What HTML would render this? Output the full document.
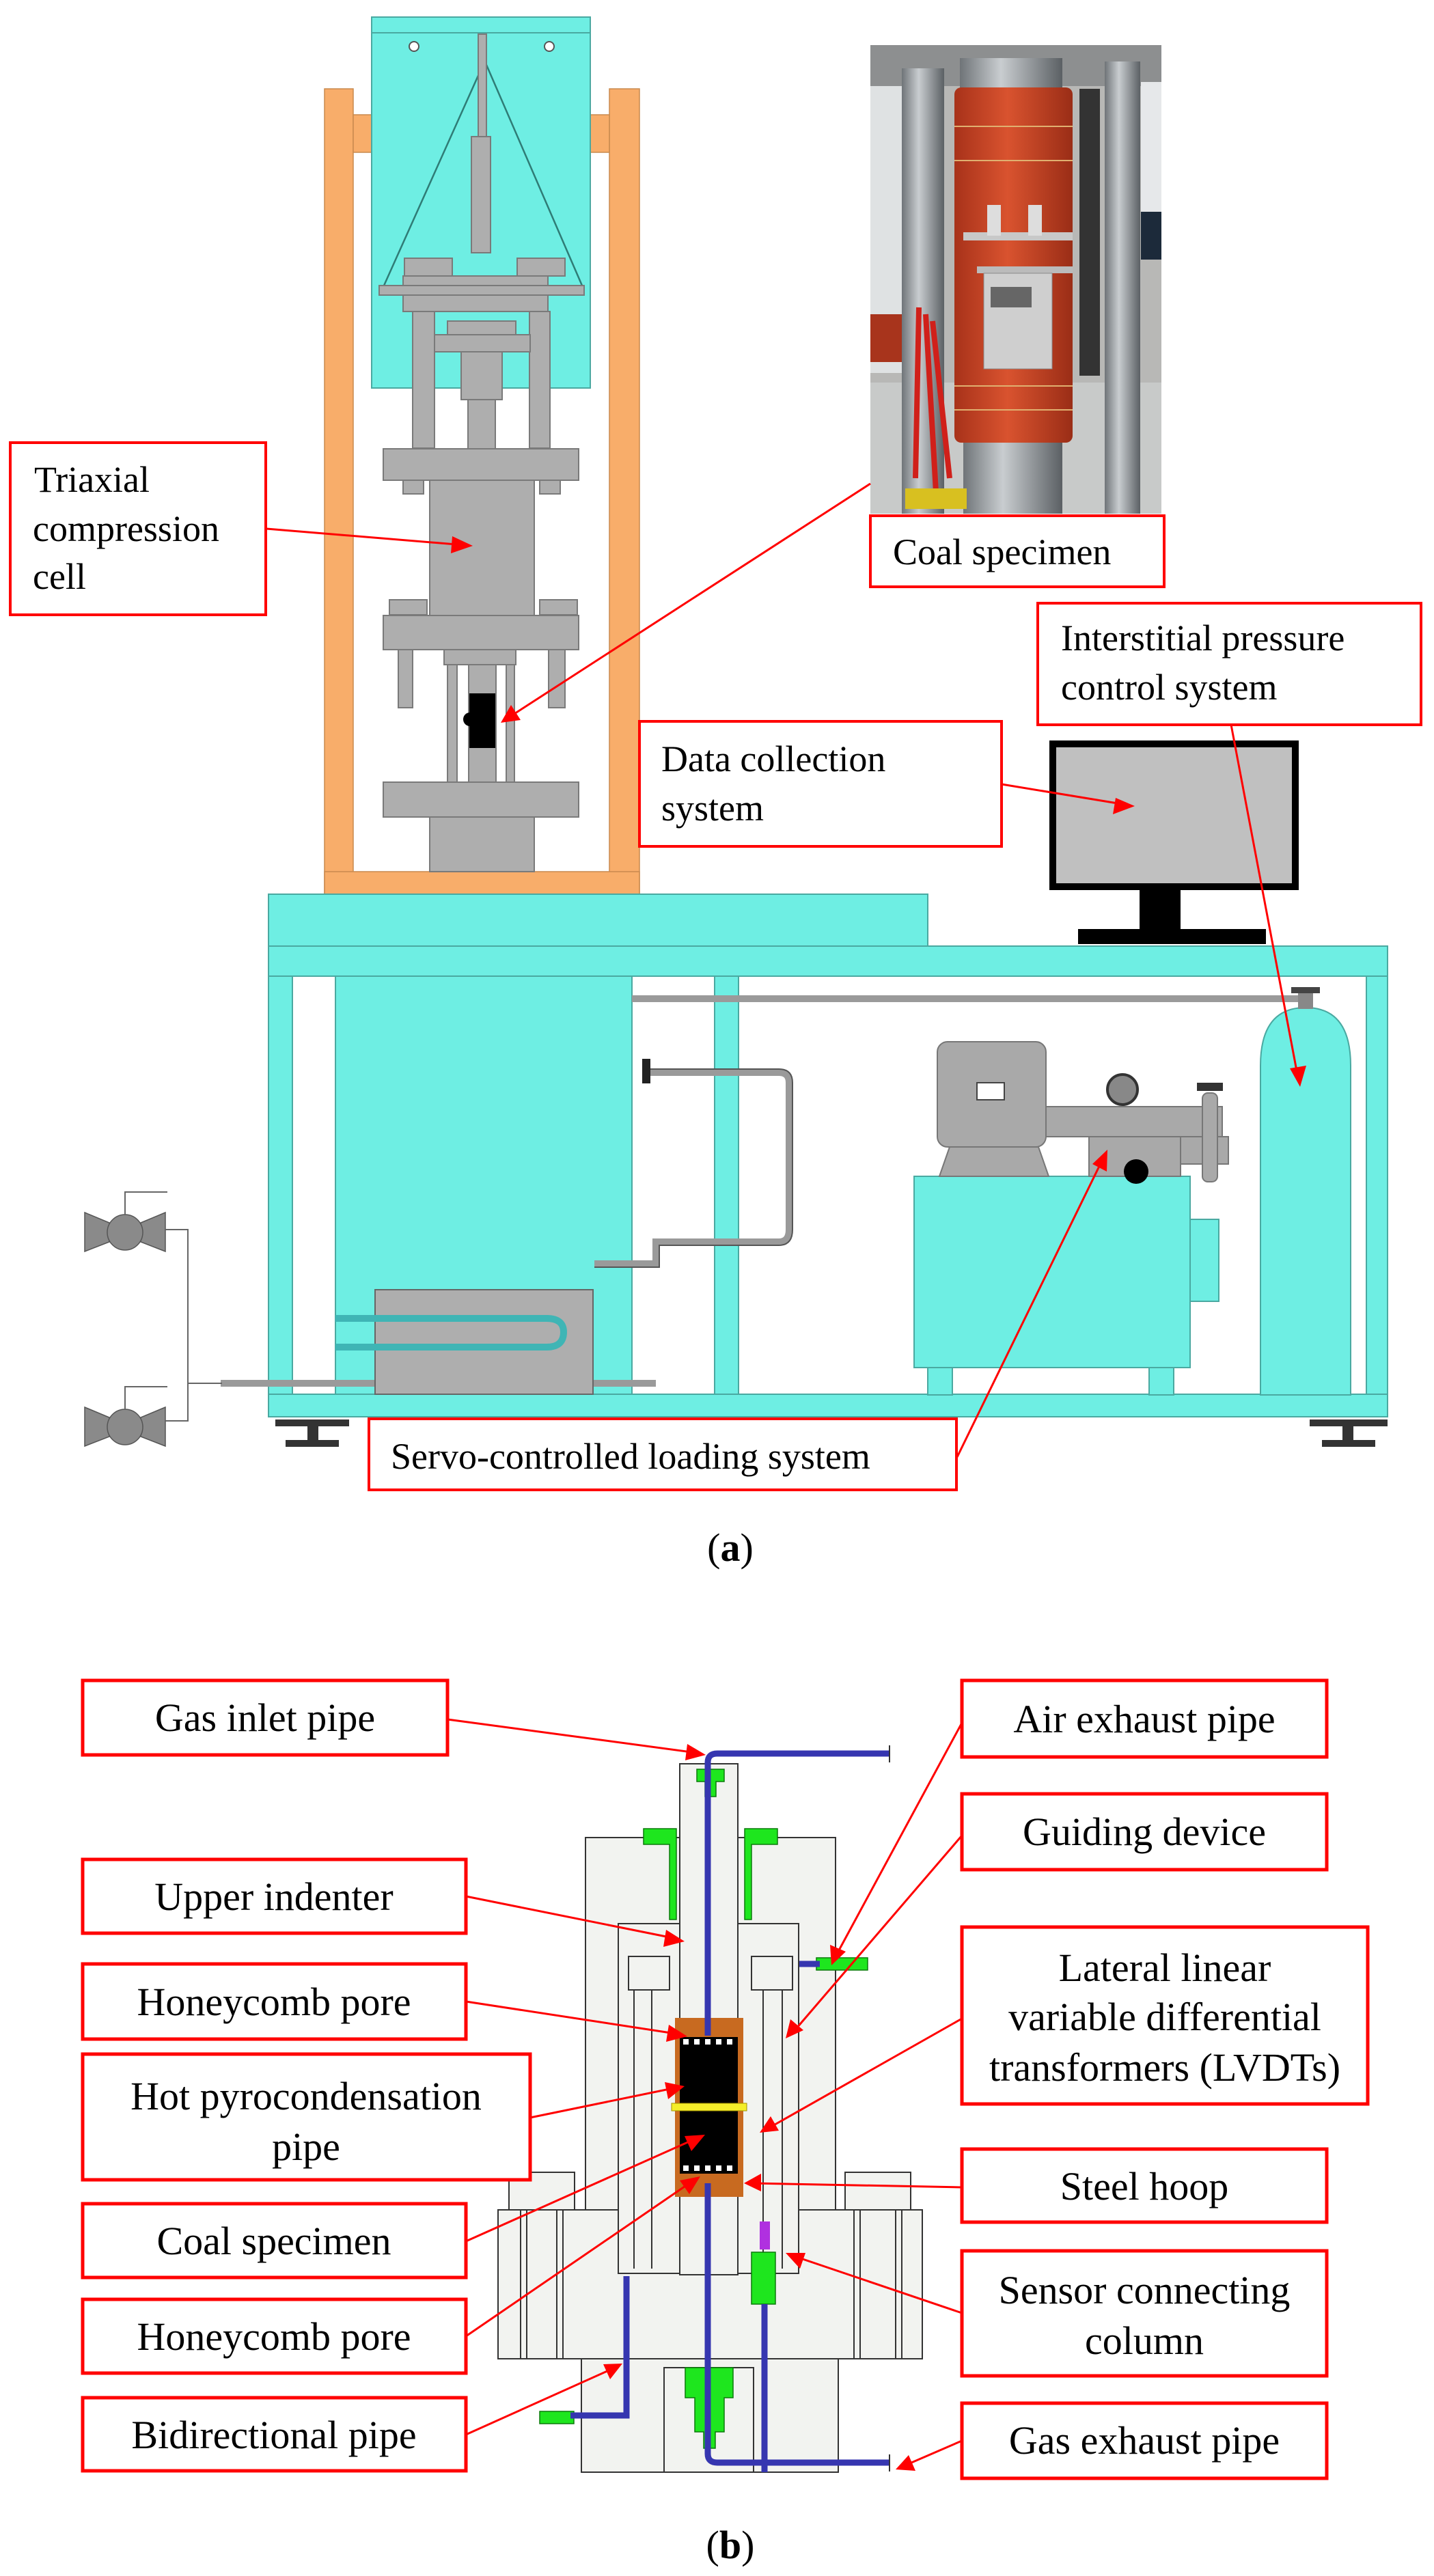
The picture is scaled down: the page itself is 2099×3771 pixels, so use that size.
<!DOCTYPE html>
<html><head><meta charset="utf-8"><style>
html,body{margin:0;padding:0;background:#fff;}
svg{display:block;}
text{font-family:"Liberation Serif",serif;fill:#000;}
</style></head><body>
<svg width="2099" height="3771" viewBox="0 0 2099 3771" xmlns="http://www.w3.org/2000/svg">
<defs>
<marker id="ah" markerWidth="10" markerHeight="8" refX="9" refY="4" orient="auto" markerUnits="userSpaceOnUse" viewBox="0 0 10 8">
</marker>
<linearGradient id="steel" x1="0" x2="1"><stop offset="0" stop-color="#6f7478"/><stop offset=".4" stop-color="#c9cdd0"/><stop offset="1" stop-color="#5b6064"/></linearGradient>
<linearGradient id="red" x1="0" x2="1"><stop offset="0" stop-color="#a8321a"/><stop offset=".45" stop-color="#d9532f"/><stop offset="1" stop-color="#9a2d16"/></linearGradient>
</defs>

<!-- ============ PART (a) ============ -->
<!-- orange frame -->
<g fill="#f8ad6a" stroke="#c98a4e" stroke-width="1.5">
<rect x="475" y="130" width="42" height="1179"/>
<rect x="892" y="130" width="44" height="1179"/>
<rect x="475" y="1276" width="461" height="33"/>
<rect x="517" y="168" width="28" height="55"/>
<rect x="864" y="168" width="28" height="55"/>
</g>
<!-- cyan top box -->
<rect x="544" y="25" width="320" height="543" fill="#6eeee3" stroke="#4aa9a1" stroke-width="2"/>
<line x1="544" y1="48" x2="864" y2="48" stroke="#4aa9a1" stroke-width="2"/>
<circle cx="606" cy="68" r="7" fill="#fff" stroke="#555" stroke-width="2"/>
<circle cx="804" cy="68" r="7" fill="#fff" stroke="#555" stroke-width="2"/>
<g stroke="#2f7c76" stroke-width="2.5" fill="none">
<line x1="707" y1="95" x2="562" y2="418"/><line x1="712" y1="95" x2="852" y2="418"/>
</g>
<!-- gray cell -->
<g fill="#aeaeae" stroke="#7a7a7a" stroke-width="2">
<rect x="700" y="50" width="12" height="150"/>
<rect x="690" y="200" width="28" height="170"/>
<rect x="590" y="404" width="212" height="52"/>
<rect x="555" y="418" width="300" height="14"/>
<rect x="592" y="378" width="70" height="26"/>
<rect x="757" y="378" width="70" height="26"/>
<rect x="604" y="456" width="32" height="200"/>
<rect x="775" y="456" width="30" height="200"/>
<rect x="655" y="470" width="100" height="20"/>
<rect x="636" y="490" width="140" height="25"/>
<rect x="675" y="515" width="60" height="70"/>
<rect x="685" y="585" width="40" height="72"/>
<rect x="561" y="657" width="286" height="46"/>
<rect x="590" y="703" width="30" height="20"/>
<rect x="790" y="703" width="30" height="20"/>
<rect x="629" y="703" width="153" height="198"/>
<rect x="570" y="878" width="55" height="22"/>
<rect x="790" y="878" width="55" height="22"/>
<rect x="561" y="901" width="286" height="50"/>
<rect x="583" y="951" width="21" height="85"/>
<rect x="803" y="951" width="24" height="85"/>
<rect x="650" y="951" width="105" height="22"/>
<rect x="655" y="973" width="14" height="172"/>
<rect x="741" y="973" width="12" height="172"/>
<rect x="686" y="973" width="40" height="172"/>
<rect x="561" y="1145" width="286" height="51"/>
<rect x="629" y="1196" width="153" height="80"/>
</g>
<rect x="687" y="1015" width="38" height="80" fill="#000"/>
<circle cx="688" cy="1053" r="10" fill="#000"/>

<!-- photo -->
<g>
<rect x="1274" y="66" width="426" height="686" fill="#b8b8b6"/>
<rect x="1274" y="66" width="426" height="60" fill="#8d8f90"/>
<rect x="1274" y="126" width="60" height="420" fill="#dfe2e3"/>
<rect x="1274" y="460" width="60" height="70" fill="#a8341c"/>
<rect x="1274" y="560" width="426" height="192" fill="#c8cac9"/>
<rect x="1320" y="100" width="62" height="652" fill="url(#steel)"/>
<rect x="1617" y="90" width="52" height="662" fill="url(#steel)"/>
<rect x="1580" y="130" width="30" height="420" fill="#333"/>
<rect x="1670" y="120" width="30" height="230" fill="#e6e8ea"/>
<rect x="1670" y="310" width="30" height="70" fill="#1c2a3a"/>
<rect x="1405" y="85" width="150" height="50" fill="url(#steel)"/>
<rect x="1410" y="630" width="145" height="122" fill="url(#steel)"/>
<rect x="1397" y="128" width="173" height="520" rx="10" fill="url(#red)"/>
<line x1="1397" y1="185" x2="1570" y2="185" stroke="#e0b070" stroke-width="2"/>
<line x1="1397" y1="235" x2="1570" y2="235" stroke="#e0b070" stroke-width="2"/>
<line x1="1397" y1="565" x2="1570" y2="565" stroke="#e0b070" stroke-width="2"/>
<line x1="1397" y1="600" x2="1570" y2="600" stroke="#e0b070" stroke-width="2"/>
<rect x="1410" y="340" width="160" height="12" fill="#c8c8c8"/>
<rect x="1430" y="390" width="140" height="10" fill="#bbb"/>
<rect x="1440" y="400" width="100" height="140" fill="#cfcfcf" stroke="#888"/>
<rect x="1450" y="420" width="60" height="30" fill="#666"/>
<rect x="1445" y="300" width="20" height="45" fill="#ddd"/>
<rect x="1505" y="300" width="20" height="45" fill="#ddd"/>
<path d="M1345 450 L1340 700 M1355 460 L1370 720 M1365 470 L1390 700" stroke="#d0201a" stroke-width="8" fill="none"/>
<rect x="1325" y="715" width="90" height="30" fill="#d8c020"/>
</g>

<!-- table -->
<g fill="#6eeee3" stroke="#4aa9a1" stroke-width="2">
<rect x="393" y="1309" width="965" height="76"/>
<rect x="393" y="1385" width="1638" height="44"/>
<rect x="393" y="1429" width="35" height="612"/>
<rect x="1046" y="1429" width="35" height="612"/>
<rect x="2000" y="1429" width="31" height="612"/>
<rect x="491" y="1429" width="434" height="612"/>
<rect x="393" y="2041" width="1638" height="33"/>
</g>
<!-- monitor -->
<rect x="1541" y="1089" width="355" height="209" fill="#c0c0c0" stroke="#000" stroke-width="10"/>
<rect x="1668" y="1302" width="60" height="58" fill="#000"/>
<rect x="1578" y="1360" width="275" height="22" fill="#000"/>
<!-- pipes -->
<g fill="none" stroke="#9a9a9a" stroke-width="10">
<line x1="925" y1="1462" x2="1910" y2="1462"/>
<path d="M945 1570 H1140 Q1155 1570 1155 1585 V1800 Q1155 1818 1140 1818 H960 V1850 H870"/>
<line x1="323" y1="2025" x2="549" y2="2025"/>
<line x1="868" y1="2025" x2="960" y2="2025"/>
</g>
<g fill="none" stroke="#555" stroke-width="2">
<path d="M945 1565 H1140 Q1160 1565 1160 1585 V1800 Q1160 1823 1140 1823 H965 V1855 H870"/>
</g>
<rect x="940" y="1550" width="12" height="36" fill="#222"/>
<!-- heater -->
<rect x="549" y="1888" width="319" height="153" fill="#aeaeae" stroke="#666" stroke-width="2"/>
<path d="M491 1930 H800 Q825 1930 825 1950 Q825 1972 800 1972 H491" fill="none" stroke="#3fb5b5" stroke-width="10"/>
<!-- pump unit -->
<rect x="1338" y="1722" width="404" height="280" fill="#6eeee3" stroke="#4aa9a1" stroke-width="2"/>
<rect x="1742" y="1785" width="42" height="120" fill="#6eeee3" stroke="#4aa9a1" stroke-width="2"/>
<rect x="1358" y="2002" width="36" height="40" fill="#6eeee3" stroke="#4aa9a1" stroke-width="2"/>
<rect x="1682" y="2002" width="36" height="40" fill="#6eeee3" stroke="#4aa9a1" stroke-width="2"/>
<g fill="#a9a9a9" stroke="#777" stroke-width="2">
<rect x="1372" y="1525" width="159" height="154" rx="15"/>
<path d="M1390 1679 L1520 1679 L1535 1722 L1375 1722 Z"/>
<rect x="1531" y="1620" width="258" height="44"/>
<rect x="1594" y="1664" width="134" height="58"/>
<rect x="1728" y="1664" width="70" height="40"/>
<rect x="1760" y="1600" width="22" height="130" rx="8"/>
</g>
<rect x="1430" y="1585" width="40" height="25" fill="#fff" stroke="#444" stroke-width="2"/>
<circle cx="1643" cy="1595" r="22" fill="#888" stroke="#333" stroke-width="4"/>
<circle cx="1663" cy="1715" r="18" fill="#000"/>
<rect x="1752" y="1585" width="38" height="12" fill="#333"/>
<!-- cylinder -->
<path d="M1845 2042 V1560 Q1845 1475 1911 1475 Q1977 1475 1977 1560 V2042 Z" fill="#6eeee3" stroke="#4aa9a1" stroke-width="2"/>
<rect x="1900" y="1452" width="22" height="25" fill="#888"/>
<rect x="1890" y="1445" width="42" height="9" fill="#444"/>
<!-- feet -->
<g fill="#333">
<rect x="403" y="2078" width="108" height="10"/><rect x="450" y="2088" width="16" height="20"/><rect x="418" y="2108" width="78" height="10"/>
<rect x="1917" y="2078" width="114" height="10"/><rect x="1965" y="2088" width="16" height="20"/><rect x="1935" y="2108" width="78" height="10"/>
</g>
<!-- left valves -->
<g fill="#8a8a8a" stroke="#555" stroke-width="1.5">
<path d="M124 1775 L160 1790 L160 1818 L124 1832 Z"/><path d="M242 1775 L206 1790 L206 1818 L242 1832 Z"/><circle cx="183" cy="1804" r="26"/>
<path d="M124 2060 L160 2075 L160 2103 L124 2117 Z"/><path d="M242 2060 L206 2075 L206 2103 L242 2117 Z"/><circle cx="183" cy="2089" r="26"/>
</g>
<g fill="none" stroke="#666" stroke-width="2">
<path d="M183 1778 V1745 H245"/><path d="M183 2063 V2030 H245"/>
<path d="M242 1800 H275 V2080 H242"/><line x1="275" y1="2025" x2="325" y2="2025"/>
</g>

<!-- labels (a) -->
<g fill="#fff" stroke="#f00" stroke-width="4">
<rect x="15" y="648" width="374" height="252"/>
<rect x="1274" y="755" width="430" height="104"/>
<rect x="1519" y="883" width="561" height="178"/>
<rect x="936" y="1056" width="530" height="183"/>
<rect x="540" y="2077" width="860" height="104"/>
</g>
<g font-size="54">
<text x="50" y="720">Triaxial</text>
<text x="48" y="792">compression</text>
<text x="48" y="862">cell</text>
<text x="1307" y="826">Coal specimen</text>
<text x="1553" y="952">Interstitial pressure</text>
<text x="1553" y="1024">control system</text>
<text x="968" y="1129">Data collection</text>
<text x="968" y="1201">system</text>
<text x="572" y="2150">Servo-controlled loading system</text>
</g>
<text x="1069" y="2285" font-size="58" text-anchor="middle">(<tspan font-weight="bold">a</tspan>)</text>

<!-- ============ PART (b) ============ -->
<g fill="#f2f3f0" stroke="#333" stroke-width="2">
<rect x="857" y="2690" width="366" height="545"/>
<rect x="729" y="3235" width="621" height="218"/>
<rect x="851" y="3453" width="376" height="166"/>
<rect x="905" y="2816" width="264" height="512"/>
<rect x="995" y="2582" width="85" height="400"/>
<rect x="972" y="3466" width="131" height="153"/>
<rect x="745" y="3180" width="96" height="55"/>
<rect x="1237" y="3180" width="96" height="55"/>
<rect x="762" y="3235" width="62" height="218"/>
<rect x="1250" y="3235" width="70" height="218"/>
<rect x="920" y="2864" width="60" height="49"/>
<rect x="1100" y="2864" width="60" height="49"/>
<rect x="995" y="3200" width="85" height="130"/>
</g>
<g stroke="#333" stroke-width="2" fill="none">
<line x1="928" y1="2913" x2="928" y2="3321"/><line x1="954" y1="2913" x2="954" y2="3321"/>
<line x1="1117" y1="2913" x2="1117" y2="3321"/><line x1="1145" y1="2913" x2="1145" y2="3321"/>
<line x1="771" y1="3235" x2="771" y2="3453"/><line x1="815" y1="3235" x2="815" y2="3453"/>
<line x1="1259" y1="3235" x2="1259" y2="3453"/><line x1="1311" y1="3235" x2="1311" y2="3453"/>
</g>
<!-- green parts -->
<g fill="#1ee61e" stroke="#0a7a0a" stroke-width="1.5">
<path d="M942 2677 H990 V2810 H980 V2700 H942 Z"/>
<path d="M1138 2677 H1090 V2810 H1100 V2700 H1138 Z"/>
<path d="M1020 2590 H1060 V2608 H1048 V2630 H1032 V2608 H1020 Z"/>
<path d="M1003 3466 H1073 V3510 H1060 V3560 H1047 V3584 H1030 V3560 H1017 V3510 H1003 Z"/>
<rect x="1100" y="3297" width="35" height="76"/>
<rect x="1195" y="2866" width="75" height="18"/>
<rect x="790" y="3530" width="50" height="18"/>
</g>
<rect x="1112" y="3252" width="15" height="41" fill="#b030e0"/>
<!-- specimen -->
<rect x="988" y="2954" width="100" height="262" fill="#c86a20"/>
<rect x="995" y="2982" width="85" height="200" fill="#000"/>
<rect x="983" y="3079" width="110" height="11" fill="#f5ee2a" stroke="#a09000"/>
<g fill="#fff"><rect x="1000" y="2985" width="8" height="8"/><rect x="1016" y="2985" width="8" height="8"/><rect x="1032" y="2985" width="8" height="8"/><rect x="1048" y="2985" width="8" height="8"/><rect x="1064" y="2985" width="8" height="8"/>
<rect x="1000" y="3170" width="8" height="8"/><rect x="1016" y="3170" width="8" height="8"/><rect x="1032" y="3170" width="8" height="8"/><rect x="1048" y="3170" width="8" height="8"/><rect x="1064" y="3170" width="8" height="8"/></g>
<!-- blue pipes -->
<g fill="none" stroke="#3636b0" stroke-width="9">
<path d="M1036 2980 V2580 Q1036 2567 1050 2567 H1302"/>
<path d="M1036 3196 V3592 Q1036 3605 1050 3605 H1302"/>
<line x1="1119" y1="3373" x2="1119" y2="3619"/>
<path d="M917 3332 V3536 H835"/>
<line x1="1170" y1="2875" x2="1200" y2="2875"/>
</g>
<line x1="1302" y1="2555" x2="1302" y2="2580" stroke="#333" stroke-width="2"/>
<line x1="1302" y1="3593" x2="1302" y2="3618" stroke="#333" stroke-width="2"/>

<!-- labels (b) -->
<g fill="#fff" stroke="#f00" stroke-width="5">
<rect x="121" y="2460" width="534" height="109"/>
<rect x="121" y="2722" width="561" height="108"/>
<rect x="121" y="2875" width="561" height="110"/>
<rect x="121" y="3007" width="655" height="184"/>
<rect x="121" y="3226" width="561" height="108"/>
<rect x="121" y="3366" width="561" height="108"/>
<rect x="121" y="3510" width="561" height="107"/>
<rect x="1408" y="2460" width="534" height="112"/>
<rect x="1408" y="2626" width="534" height="111"/>
<rect x="1408" y="2821" width="594" height="259"/>
<rect x="1408" y="3146" width="534" height="107"/>
<rect x="1408" y="3295" width="534" height="183"/>
<rect x="1408" y="3518" width="534" height="110"/>
</g>
<g font-size="58" text-anchor="middle">
<text x="388" y="2534">Gas inlet pipe</text>
<text x="401" y="2796">Upper indenter</text>
<text x="401" y="2950">Honeycomb pore</text>
<text x="448" y="3088">Hot pyrocondensation</text>
<text x="448" y="3162">pipe</text>
<text x="401" y="3300">Coal specimen</text>
<text x="401" y="3440">Honeycomb pore</text>
<text x="401" y="3584">Bidirectional pipe</text>
<text x="1675" y="2536">Air exhaust pipe</text>
<text x="1675" y="2701">Guiding device</text>
<text x="1705" y="2900">Lateral linear</text>
<text x="1705" y="2972">variable differential</text>
<text x="1705" y="3046">transformers (LVDTs)</text>
<text x="1675" y="3220">Steel hoop</text>
<text x="1675" y="3372">Sensor connecting</text>
<text x="1675" y="3446">column</text>
<text x="1675" y="3592">Gas exhaust pipe</text>
</g>
<text x="1069" y="3745" font-size="58" text-anchor="middle">(<tspan font-weight="bold">b</tspan>)</text>

<!-- arrows -->
<g stroke="#f00" stroke-width="3" fill="none">
<line x1="390" y1="774" x2="680" y2="798"/>
<line x1="1274" y1="708" x2="745" y2="1050"/>
<line x1="1466" y1="1148" x2="1648" y2="1178"/>
<line x1="1802" y1="1061" x2="1900" y2="1578"/>
<line x1="1401" y1="2133" x2="1615" y2="1695"/>
<line x1="655" y1="2517" x2="1020" y2="2566"/>
<line x1="682" y1="2776" x2="990" y2="2838"/>
<line x1="682" y1="2930" x2="995" y2="2978"/>
<line x1="776" y1="3100" x2="990" y2="3056"/>
<line x1="682" y1="3281" x2="1020" y2="3130"/>
<line x1="682" y1="3420" x2="1015" y2="3192"/>
<line x1="682" y1="3564" x2="900" y2="3466"/>
<line x1="1408" y1="2522" x2="1222" y2="2866"/>
<line x1="1408" y1="2687" x2="1160" y2="2976"/>
<line x1="1408" y1="2955" x2="1122" y2="3117"/>
<line x1="1408" y1="3202" x2="1100" y2="3196"/>
<line x1="1408" y1="3386" x2="1160" y2="3302"/>
<line x1="1408" y1="3573" x2="1318" y2="3612"/>
</g>
<g fill="#f00">
<polygon points="692,799 662,785 660,810"/>
<polygon points="733,1058 748,1032 762,1054"/>
<polygon points="1661,1180 1633,1168 1629,1192"/>
<polygon points="1903,1591 1888,1564 1912,1560"/>
<polygon points="1621,1683 1599,1704 1620,1715"/>
<polygon points="1033,2569 1006,2553 1003,2577"/>
<polygon points="1002,2842 975,2825 971,2850"/>
<polygon points="1006,2981 979,2964 975,2989"/>
<polygon points="1002,3054 973,3048 978,3073"/>
<polygon points="1032,3125 1002,3127 1012,3149"/>
<polygon points="1025,3186 995,3192 1009,3212"/>
<polygon points="911,3460 883,3461 893,3483"/>
<polygon points="1217,2877 1215,2847 1238,2857"/>
<polygon points="1150,2984 1157,2956 1176,2972"/>
<polygon points="1112,3122 1128,3098 1140,3119"/>
<polygon points="1089,3196 1114,3182 1114,3208"/>
<polygon points="1150,3298 1179,3298 1171,3321"/>
<polygon points="1311,3615 1330,3594 1340,3617"/>
</g>
</svg>
</body></html>
